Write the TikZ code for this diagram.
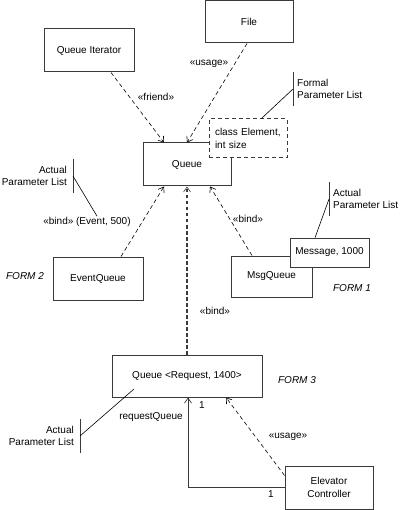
\documentclass[tikz,border=0pt]{standalone}
\usepackage{fontspec}
\setmainfont{Liberation Sans}
\usetikzlibrary{arrows.meta,calc}
\definecolor{linec}{HTML}{3A3A3A}
\newcommand{\dfont}{\fontsize{10}{12.5}\selectfont}
\tikzset{
  cls/.style={draw=linec, line width=1pt, fill=white, align=center, font=\dfont,
              minimum width=88pt, minimum height=42pt, inner sep=2pt},
  tpar/.style={draw=linec, line width=1pt, dash pattern=on 4pt off 3pt, fill=white,
               align=left, font=\dfont, text width=66pt, inner xsep=6pt,
               minimum height=39pt},
  dep/.style={-{Straight Barb[length=5pt, width=7pt, line width=0.6pt]}, draw=black,
              line width=0.6pt, dash pattern=on 4pt off 3pt},
  bindc/.style={dep, draw=linec, line width=1.2pt, dash pattern=on 3.5pt off 2.5pt},
  assoc/.style={-{Straight Barb[length=5pt, width=7pt, line width=0.7pt]}, draw=linec,
                line width=0.9pt},
  lbl/.style={font=\dfont, inner sep=1pt},
  form/.style={font=\dfont\itshape, inner sep=1pt},
  notel/.style={font=\dfont, align=left, inner xsep=4pt, inner ysep=0pt, minimum height=34pt},
  noter/.style={font=\dfont, align=right, inner xsep=6pt, inner ysep=0pt, minimum height=34pt},
  bar/.style={draw=linec, line width=1pt},
  lead/.style={draw=black, line width=0.6pt},
}
\begin{document}
\begin{tikzpicture}[x=1pt, y=-1pt]
  \useasboundingbox (0,0) rectangle (400,510);

  % classes
  \node[cls] (file) at (249,22) {File};
  \node[cls, minimum width=90pt, minimum height=43pt] (qiter) at (89,50.5) {Queue Iterator};
  \node[cls, minimum height=43pt] (queue) at (187,164.5) {Queue};
  \node[tpar] (tparam) at (248,138.5) {class Element,\\int size};
  \node[cls, minimum width=90pt, minimum height=43pt] (evq) at (98,278.5) {EventQueue};
  \node[cls, minimum width=81pt, minimum height=41pt] (msgq) at (271.5,276.5) {MsgQueue};
  \node[cls, minimum width=79pt, minimum height=29pt] (msgpar) at (329.5,252.5) {Message, 1000};
  \node[cls, minimum width=150pt] (reqq) at (187,376) {Queue <Request, 1400>};
  \node[cls, minimum height=43pt] (elev) at (329,487.5) {Elevator\\Controller};

  % dependencies
  \draw[dep] ([xshift=22pt]qiter.south) -- ([xshift=-23pt]queue.north);
  \node[lbl] (friendl) at (156,97) {«friend»};
  \draw[dep] ([xshift=-2pt]file.south) -- (queue.north);
  \node[lbl] (usagel) at (209,64) {«usage»};
  \draw[dep] ([xshift=23pt]evq.north) -- ([xshift=-23pt]queue.south);
  \node[lbl] (evbind) at (87,222) {«bind» (Event, 500)};
  \draw[dep] ([xshift=-19.5pt]msgq.north) -- ([xshift=23pt]queue.south);
  \node[lbl] (msgbind) at (248,219) {«bind»};
  \draw[bindc] (reqq.north) -- (queue.south);
  \node[lbl] (reqbind) at (215,311) {«bind»};
  \draw[dep] ([yshift=12pt]elev.west) -- ([xshift=39pt]reqq.south);
  \node[lbl] (usage2l) at (288,437) {«usage»};

  % association
  \draw[assoc] (elev.west) -| ([xshift=1pt]reqq.south);
  \node[lbl] (mult1) at (202,405) {1};
  \node[lbl] (mult2) at (271,494) {1};
  \node[lbl] (rolel) at (151,417) {requestQueue};

  % parameter notes
  \node[notel, anchor=west] (fnote) at (293,89) {Formal\\Parameter List};
  \draw[bar] (fnote.north west) -- (fnote.south west);
  \draw[lead] (fnote.west) -- ($(tparam.north west)!0.67!(tparam.north east)$);

  \node[noter, anchor=east] (lnote) at (73,176) {Actual\\Parameter List};
  \draw[bar] (lnote.north east) -- (lnote.south east);
  \draw[lead] (lnote.east) -- ([xshift=10pt]evbind.north);

  \node[notel, anchor=west] (rnote) at (329,199) {Actual\\Parameter List};
  \draw[bar] (rnote.north west) -- (rnote.south west);
  \draw[lead] (rnote.west) -- ($(msgpar.north west)!0.32!(msgpar.north east)$);

  \coordinate (rqpar) at (134,389);
  \node[noter, anchor=east] (bnote) at (80,436) {Actual\\Parameter List};
  \draw[bar] (bnote.north east) -- (bnote.south east);
  \draw[lead] (bnote.east) -- (rqpar);

  % forms
  \node[form] (form2) at (25,276) {FORM 2};
  \node[form] (form1) at (352,288) {FORM 1};
  \node[form] (form3) at (297,380) {FORM 3};
\end{tikzpicture}
\end{document}
